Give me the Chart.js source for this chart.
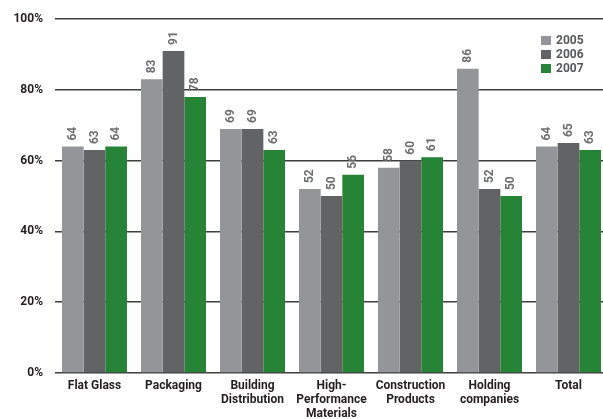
<!DOCTYPE html>
<html>
<head>
<meta charset="utf-8">
<script src="https://cdn.jsdelivr.net/npm/chart.js@4"></script>
<style>
  html, body { margin: 0; padding: 0; background: #fff; overflow: hidden; }
  #wrap { width: 608px; height: 419px; }
</style>
</head>
<body>
<div id="wrap"><canvas id="chart" width="608" height="419"></canvas></div>
<script>
const CATEGORIES = [
  ['Flat Glass'], ['Packaging'], ['Building', 'Distribution'],
  ['High-', 'Performance', 'Materials'], ['Construction', 'Products'],
  ['Holding', 'companies'], ['Total']
];
const YEARS = ['2005', '2006', '2007'];
const V2005 = [64, 83, 69, 52, 58, 86, 64];
const V2006 = [63, 91, 69, 50, 60, 52, 65];
const V2007 = [64, 78, 63, 56, 61, 50, 63];
const Y_TICKS = [0, 20, 40, 60, 80, 100];

const COLORS = ['#939598', '#626365', '#268436'];
const FONT = 'Roboto, "DejaVu Sans", sans-serif';

// value labels, rotated, sitting on top of each bar
const valueLabels = {
  id: 'valueLabels',
  afterDatasetsDraw(chart) {
    const ctx = chart.ctx;
    ctx.save();
    ctx.font = `bold 12px ${FONT}`;
    ctx.fillStyle = '#6d6e70';
    ctx.textAlign = 'left';
    ctx.textBaseline = 'middle';
    chart.data.datasets.forEach((ds, i) => {
      chart.getDatasetMeta(i).data.forEach((bar, j) => {
        ctx.save();
        ctx.translate(bar.x, bar.y - 6);
        ctx.rotate(-Math.PI / 2);
        ctx.fillText(String(ds.data[j]), 0, 0);
        ctx.restore();
      });
    });
    ctx.restore();
  }
};

// small legend block, top right
const boxLegend = {
  id: 'boxLegend',
  afterDraw(chart) {
    const ctx = chart.ctx;
    ctx.save();
    ctx.font = `bold 12px ${FONT}`;
    ctx.textBaseline = 'middle';
    ctx.textAlign = 'left';
    YEARS.forEach((y, i) => {
      const top = 36 + i * 14;
      ctx.fillStyle = COLORS[i];
      ctx.fillRect(541, top, 10, 9);
      ctx.fillStyle = '#58595b';
      ctx.fillText(y, 556, top + 5);
    });
    ctx.restore();
  }
};

new Chart(document.getElementById('chart'), {
  type: 'bar',
  data: {
    labels: CATEGORIES,
    datasets: YEARS.map((y, i) => ({
      label: y,
      data: [V2005, V2006, V2007][i],
      backgroundColor: COLORS[i],
      borderWidth: 0,
      categoryPercentage: 0.823,
      barPercentage: 1
    }))
  },
  options: {
    responsive: false,
    animation: false,
    layout: { padding: { top: 18, right: 0, bottom: 0, left: 0 } },
    plugins: { legend: { display: false }, tooltip: { enabled: false } },
    scales: {
      x: {
        grid: { display: false },
        border: { display: false },
        ticks: {
          color: '#231f20',
          font: { family: FONT, size: 12, weight: 'bold', lineHeight: 1.17 },
          padding: -2,
          maxRotation: 0,
          autoSkip: false
        },
        afterFit(scale) { scale.height = 46; }
      },
      y: {
        min: 0,
        max: 100,
        afterBuildTicks(scale) { scale.ticks = Y_TICKS.map(v => ({ value: v })); },
        grid: { color: '#3f3f40', lineWidth: 1.5, drawTicks: false },
        border: { display: false },
        ticks: {
          color: '#231f20',
          font: { family: FONT, size: 12, weight: 'bold' },
          padding: 12,
          callback: v => v + '%'
        },
        afterFit(scale) { scale.width = 55; }
      }
    }
  },
  plugins: [valueLabels, boxLegend]
});
</script>
</body>
</html>
